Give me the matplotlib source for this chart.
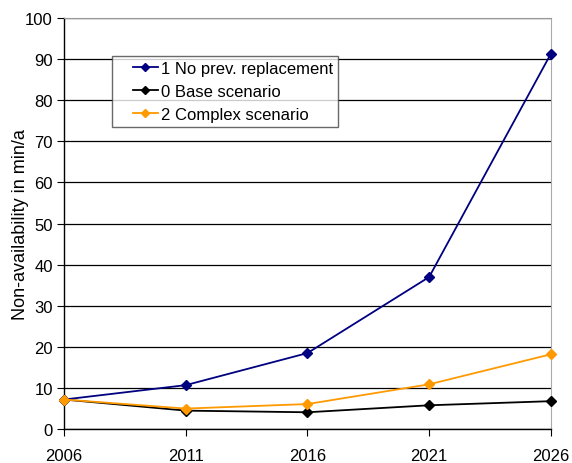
import matplotlib.pyplot as plt
from matplotlib.legend_handler import HandlerLine2D

plt.rcParams['font.family'] = ['Liberation Sans', 'DejaVu Sans']

years = [2006, 2011, 2016, 2021, 2026]
no_prev = [7.2, 10.7, 18.5, 37.0, 91.3]
base = [7.2, 4.5, 4.1, 5.8, 6.8]
complex_sc = [7.2, 5.0, 6.1, 10.9, 18.2]

fig = plt.figure(figsize=(5.72, 4.64), dpi=100)
ax = fig.add_axes([0.112, 0.073, 0.851, 0.886])

ax.plot(years, no_prev, color='#000080', marker='D', markersize=5, lw=1.3,
        label='1 No prev. replacement', clip_on=False, zorder=5)
ax.plot(years, base, color='black', marker='D', markersize=5, lw=1.3,
        label='0 Base scenario', clip_on=False, zorder=4)
ax.plot(years, complex_sc, color='#FF9900', marker='D', markersize=5, lw=1.3,
        label='2 Complex scenario', clip_on=False, zorder=6)

ax.set_xlim(2006, 2026)
ax.set_ylim(0, 100)
ax.set_xticks(years)
ax.set_yticks(range(0, 101, 10))
ax.yaxis.grid(True, color='black', lw=0.9)
ax.set_axisbelow(True)

ax.spines['top'].set_color('#999999')
ax.spines['right'].set_color('#aaaaaa')
ax.spines['left'].set_linewidth(1.0)
ax.spines['bottom'].set_linewidth(1.0)
ax.tick_params(axis='both', direction='out', length=5, labelsize=12, pad=3)
ax.tick_params(axis='x', pad=8.5)
ax.set_ylabel('Non-availability in min/a', fontsize=13, labelpad=-3)

# legend handles indented from the frame's left edge
leg = ax.legend(loc='upper left', bbox_to_anchor=(0.098, 0.907), fontsize=12,
                frameon=True, fancybox=False, edgecolor='#444444',
                handlelength=2.45, borderpad=0.3, labelspacing=0.46,
                handletextpad=0.2, borderaxespad=0, markerscale=0.8,
                handler_map={plt.Line2D: HandlerLine2D(xpad=0.95)})
leg.get_frame().set_linewidth(1.0)

fig.savefig('out.png', dpi=100)
